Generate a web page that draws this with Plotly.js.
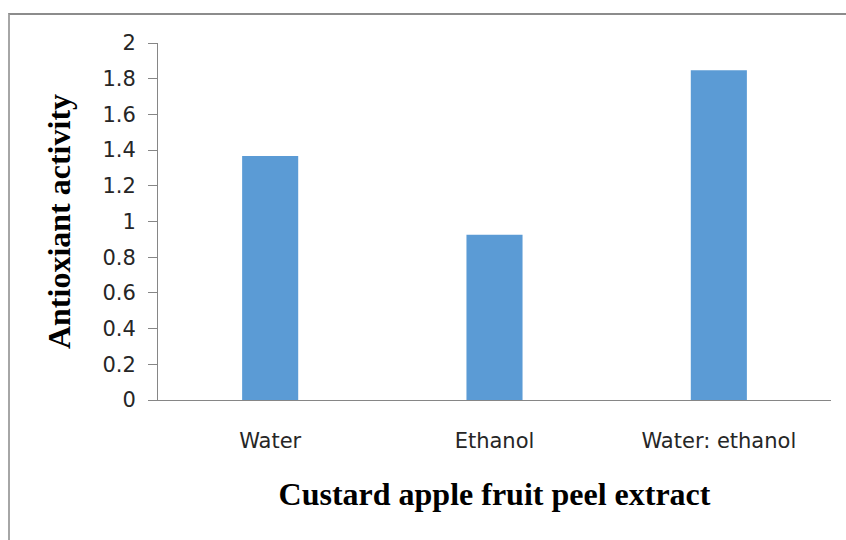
<!DOCTYPE html>
<html>
<head>
<meta charset="utf-8">
<script src="https://cdn.plot.ly/plotly-3.0.1.min.js"></script>
<style>
  html, body { margin: 0; padding: 0; background: #fff; }
  #wrap { position: relative; width: 846px; height: 540px; overflow: hidden; }
  #frame { position: absolute; left: 8px; top: 13px; width: 860px; height: 600px;
           border-top: 2px solid #8c8c8c; border-left: 2px solid #a6a6a6;
           box-sizing: border-box; pointer-events: none; }
  #chart { position: absolute; left: 0; top: 0; width: 846px; height: 540px; }
</style>
</head>
<body>
<div id="wrap">
  <div id="chart"></div>
  <div id="frame"></div>
</div>
<script>
// Extract solvents and their measured antioxidant activity
const categories = ['Water', 'Ethanol', 'Water: ethanol'];
const activity = [1.367, 0.926, 1.847];
const yTicks = [0, 0.2, 0.4, 0.6, 0.8, 1, 1.2, 1.4, 1.6, 1.8, 2];
const yTickText = ['0', '0.2', '0.4', '0.6', '0.8', '1', '1.2', '1.4', '1.6', '1.8', '2'];

const trace = {
  type: 'bar',
  x: categories,
  y: activity,
  width: 0.25,
  marker: { color: '#5b9bd5', line: { width: 0 } },
  hoverinfo: 'x+y'
};

const yTickFont = { family: 'DejaVu Sans, sans-serif', size: 21, color: '#262626' };
const xTickFont = { family: 'DejaVu Sans, sans-serif', size: 21, color: '#262626' };
const titleFont = { family: 'Liberation Serif, Times New Roman, serif', size: 32, color: '#000', weight: 'bold' };

const layout = {
  width: 846,
  height: 540,
  margin: { l: 158, r: 15, t: 43, b: 140 },
  paper_bgcolor: '#fff',
  plot_bgcolor: '#fff',
  showlegend: false,
  bargap: 0.75,
  xaxis: {
    type: 'category',
    showline: true,
    linecolor: '#868686',
    linewidth: 1,
    ticks: '',
    tickfont: xTickFont,
    ticklabelstandoff: 22,
    showgrid: false,
    zeroline: false,
    title: { text: '<b>Custard apple fruit peel extract</b>', font: titleFont, standoff: 30 }
  },
  yaxis: {
    range: [0, 2],
    tickvals: yTicks,
    ticktext: yTickText,
    showline: true,
    linecolor: '#868686',
    linewidth: 1,
    ticks: 'outside',
    ticklen: 9,
    tickcolor: '#868686',
    tickfont: yTickFont,
    ticklabelstandoff: 8,
    showgrid: false,
    zeroline: false,
    title: { text: '<b>Antioxiant activity</b>', font: titleFont, standoff: 22 }
  }
};

Plotly.newPlot('chart', [trace], layout, { displayModeBar: false, staticPlot: true });
</script>
</body>
</html>
